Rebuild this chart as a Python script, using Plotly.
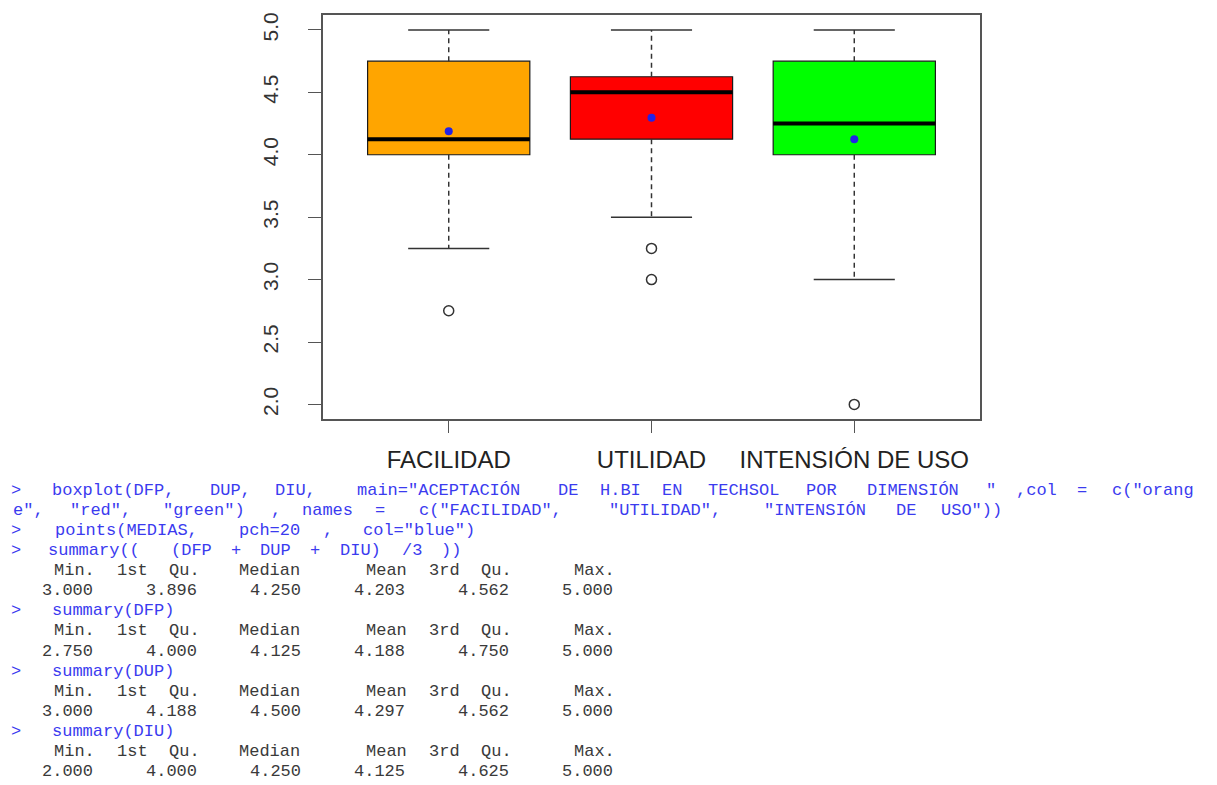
import re
import plotly.graph_objects as go

# ---------------- data ----------------
categories = ["FACILIDAD", "UTILIDAD", "INTENSIÓN DE USO"]
positions = [1, 2, 3]
q1 = [4.0, 4.125, 4.0]
median = [4.125, 4.5, 4.25]
q3 = [4.75, 4.625, 4.75]
whisker_low = [3.25, 3.5, 3.0]
whisker_high = [5.0, 5.0, 5.0]
means = [4.188, 4.297, 4.125]
outliers = [[2.75], [3.25, 3.0], [2.0]]
box_colors = ["#FFA500", "#FF0000", "#00FF00"]
y_ticks = [2.0, 2.5, 3.0, 3.5, 4.0, 4.5, 5.0]
y_tick_labels = ["2.0", "2.5", "3.0", "3.5", "4.0", "4.5", "5.0"]

console_lines = [
    '> boxplot(DFP, DUP, DIU, main="ACEPTACIÓN DE H.BI EN TECHSOL POR DIMENSIÓN " ,col = c("orang',
    'e", "red", "green") , names = c("FACILIDAD", "UTILIDAD", "INTENSIÓN DE USO"))',
    '> points(MEDIAS, pch=20 , col="blue")',
    '> summary(( (DFP + DUP + DIU) /3 ))',
    '   Min. 1st Qu.  Median    Mean 3rd Qu.    Max. ',
    '  3.000   3.896   4.250   4.203   4.562   5.000 ',
    '> summary(DFP)',
    '   Min. 1st Qu.  Median    Mean 3rd Qu.    Max. ',
    '  2.750   4.000   4.125   4.188   4.750   5.000 ',
    '> summary(DUP)',
    '   Min. 1st Qu.  Median    Mean 3rd Qu.    Max. ',
    '  3.000   4.188   4.500   4.297   4.562   5.000 ',
    '> summary(DIU)',
    '   Min. 1st Qu.  Median    Mean 3rd Qu.    Max. ',
    '  2.000   4.000   4.250   4.125   4.625   5.000 ',
]
console_is_command = [True, True, True, True, False, False, True, False, False,
                      True, False, False, True, False, False]

# ---------------- style ----------------
W, H = 1217, 785
BOX_W = 0.8
CAP_W = 0.4
CMD_COLOR = "#3b3bef"
OUT_COLOR = "#3a3a3a"
AX_COLOR = "#555555"

fig = go.Figure()

# boxes (whiskers drawn separately, dashed like R)
for i, cat in enumerate(categories):
    fig.add_trace(go.Box(
        x=[positions[i]], q1=[q1[i]], median=[median[i]], q3=[q3[i]],
        lowerfence=[q1[i]], upperfence=[q3[i]],
        width=BOX_W, whiskerwidth=0, fillcolor=box_colors[i],
        line=dict(color="#1a1a1a", width=1.2), name=cat, boxpoints=False,
        hoverinfo="skip",
    ))

# dashed whiskers
wx, wy = [], []
for i, p in enumerate(positions):
    wx += [p, p, None, p, p, None]
    wy += [q3[i], whisker_high[i], None, q1[i], whisker_low[i], None]
fig.add_trace(go.Scatter(x=wx, y=wy, mode="lines",
                         line=dict(color="#333333", width=1.5, dash="5px,4px"),
                         hoverinfo="skip"))

# whisker caps
cx, cy = [], []
for i, p in enumerate(positions):
    for v in (whisker_high[i], whisker_low[i]):
        cx += [p - CAP_W / 2, p + CAP_W / 2, None]
        cy += [v, v, None]
fig.add_trace(go.Scatter(x=cx, y=cy, mode="lines",
                         line=dict(color="#333333", width=1.5), hoverinfo="skip"))

# thick medians
mx, my = [], []
for i, p in enumerate(positions):
    mx += [p - BOX_W / 2, p + BOX_W / 2, None]
    my += [median[i], median[i], None]
fig.add_trace(go.Scatter(x=mx, y=my, mode="lines",
                         line=dict(color="#000000", width=4), hoverinfo="skip"))

# outliers
ox, oy = [], []
for i, p in enumerate(positions):
    for v in outliers[i]:
        ox.append(p)
        oy.append(v)
fig.add_trace(go.Scatter(x=ox, y=oy, mode="markers",
                         marker=dict(symbol="circle-open", size=10,
                                     color="#333333", line=dict(width=1.5))))

# means
fig.add_trace(go.Scatter(x=positions, y=means, mode="markers",
                         marker=dict(color="#2323e6", size=8)))

# ---------------- console text ----------------
X0, ADV = 9, 13.0
LINE0, LINE_STEP = 489, 20.2
annotations = []
for li, line in enumerate(console_lines):
    color = CMD_COLOR if console_is_command[li] else OUT_COLOR
    ypx = LINE0 + li * LINE_STEP
    for m in re.finditer(r"\S+", line):
        word = m.group(0)
        xc = X0 + (m.start() + len(word) / 2) * ADV
        annotations.append(dict(
            x=xc / W, y=1 - ypx / H, xref="paper", yref="paper",
            text=word, showarrow=False, xanchor="center", yanchor="middle",
            borderpad=0,
            font=dict(family="Liberation Mono, DejaVu Sans Mono, monospace",
                      size=17, color=color),
        ))

fig.update_layout(
    width=W, height=H,
    margin=dict(l=0, r=0, t=0, b=0),
    paper_bgcolor="white", plot_bgcolor="white",
    showlegend=False,
    annotations=annotations,
    xaxis=dict(
        domain=[323 / W, 980 / W], range=[0.38, 3.62],
        tickvals=positions, ticktext=categories,
        ticks="outside", ticklen=12, tickcolor=AX_COLOR, tickwidth=1.3,
        showline=True, mirror=True, linecolor=AX_COLOR, linewidth=1.5,
        showgrid=False, zeroline=False, ticklabelstandoff=6,
        tickfont=dict(family="Liberation Sans, Arial, sans-serif", size=24, color="#222222"),
    ),
    yaxis=dict(
        domain=[(H - 418) / H, (H - 12) / H], range=[1.88, 5.12],
        tickvals=y_ticks, ticktext=y_tick_labels, tickangle=-90,
        ticks="outside", ticklen=13, tickcolor=AX_COLOR, tickwidth=1.3,
        showline=True, mirror=True, linecolor=AX_COLOR, linewidth=1.5,
        showgrid=False, zeroline=False, ticklabelstandoff=22,
        tickfont=dict(family="Liberation Sans, Arial, sans-serif", size=21, color="#333333"),
    ),
)

fig.write_html("out.html", config={"displayModeBar": False},
               post_script="document.body.style.margin='0';")
